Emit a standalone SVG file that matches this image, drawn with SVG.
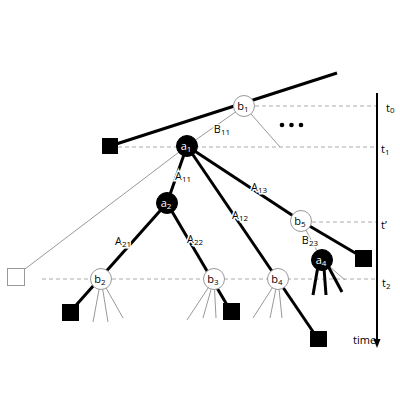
<svg xmlns="http://www.w3.org/2000/svg" width="400" height="400" viewBox="0 0 400 400">
<style>
.thick{stroke:#000;stroke-width:3;fill:none}
.thin{stroke:#999;stroke-width:1;fill:none}
.dash{stroke:#aaa;stroke-width:1;stroke-dasharray:4,3;fill:none}
.bn{fill:#fff;stroke:#999;stroke-width:1}
.an{fill:#000;stroke:#000;stroke-width:1}
.sq{fill:#000}
text{font-family:"Open Sans","DejaVu Sans",sans-serif;font-size:11px;fill:#000}
.lbl{paint-order:stroke;stroke:#fff;stroke-width:3px}
.nl{text-anchor:middle}
.w{fill:#fff}
.s{font-size:8px}
</style>
<defs>
<marker id="arr" markerWidth="6" markerHeight="6" refX="3" refY="5" orient="auto-start-reverse" markerUnits="userSpaceOnUse" viewBox="0 0 6 6">
<path d="M0,0 L6,0 L3,6 z" fill="#000"/>
</marker>
</defs>
<g id="axis">
<line x1="377" y1="93" x2="377" y2="342" stroke="#000" stroke-width="2"/>
<path d="M373.5,339 L380.5,339 L377,348 z" fill="#000"/>
<text x="386" y="112">t<tspan class="s" dy="1">0</tspan></text>
<text x="381" y="153">t<tspan class="s" dy="2">1</tspan></text>
<text x="381" y="229">t’</text>
<text x="382" y="287">t<tspan class="s" dy="2">2</tspan></text>
<text x="353" y="344">time</text>
</g>
<g id="connectors">
<line class="dash" x1="255" y1="106" x2="376" y2="106"/>
<line class="dash" x1="118" y1="147" x2="376" y2="147"/>
<line class="dash" x1="312" y1="222" x2="376" y2="222"/>
<line class="dash" x1="42" y1="279" x2="376" y2="279"/>
<line class="thick" x1="110" y1="146" x2="337" y2="73"/>
<line class="thin" x1="244" y1="106" x2="280" y2="147"/>
<line class="thin" x1="244" y1="106" x2="187" y2="146"/>
<line class="thin" x1="25" y1="269" x2="187" y2="146"/>
<line class="thick" x1="187" y1="146" x2="167" y2="203"/>
<line class="thick" x1="187" y1="146" x2="301" y2="221"/>
<line class="thick" x1="187" y1="146" x2="318" y2="339"/>
<line class="thick" x1="167" y1="203" x2="70" y2="312"/>
<line class="thick" x1="167" y1="203" x2="230" y2="310"/>
<line class="thick" x1="301" y1="221" x2="362" y2="257"/>
<line class="thin" x1="301" y1="221" x2="322" y2="260"/>
<line class="thin" x1="322" y1="260" x2="345" y2="280"/>
<line class="thick" x1="318" y1="266" x2="313" y2="295"/>
<line class="thick" x1="324" y1="268" x2="326" y2="295"/>
<line class="thick" x1="328" y1="266" x2="342" y2="292"/>
<line class="thin" x1="101" y1="279" x2="93" y2="322"/>
<line class="thin" x1="101" y1="279" x2="108" y2="322"/>
<line class="thin" x1="101" y1="279" x2="123" y2="318"/>
<line class="thin" x1="214" y1="279" x2="187" y2="320"/>
<line class="thin" x1="214" y1="279" x2="203" y2="318"/>
<line class="thin" x1="214" y1="279" x2="216" y2="318"/>
<line class="thin" x1="278" y1="279" x2="253" y2="318"/>
<line class="thin" x1="278" y1="279" x2="270" y2="318"/>
<line class="thin" x1="278" y1="279" x2="282" y2="318"/>
<circle cx="282" cy="125" r="2.3" fill="#000"/>
<circle cx="291.5" cy="125" r="2.3" fill="#000"/>
<circle cx="301" cy="125" r="2.3" fill="#000"/>
<text class="nl lbl" x="222" y="133">B<tspan class="s" dy="2">11</tspan></text>
<text class="nl lbl" x="183" y="180">A<tspan class="s" dy="2">11</tspan></text>
<text class="nl lbl" x="259" y="191">A<tspan class="s" dy="2">13</tspan></text>
<text class="nl lbl" x="240" y="219">A<tspan class="s" dy="2">12</tspan></text>
<text class="nl lbl" x="123" y="245">A<tspan class="s" dy="2">21</tspan></text>
<text class="nl lbl" x="195" y="243">A<tspan class="s" dy="2">22</tspan></text>
<text class="nl lbl" x="310" y="244">B<tspan class="s" dy="2">23</tspan></text>
</g>
<g id="sq0"><rect x="102" y="138" width="16" height="16" class="sq"/></g>
<g id="sqOpen"><rect x="7.5" y="268.5" width="17" height="17" fill="#fff" stroke="#999" stroke-width="1"/></g>
<g id="sq1"><rect x="62" y="304" width="17" height="17" class="sq"/></g>
<g id="sq2"><rect x="223" y="303" width="17" height="17" class="sq"/></g>
<g id="sq3"><rect x="310" y="331" width="17" height="16" class="sq"/></g>
<g id="sq4"><rect x="355" y="250" width="17" height="17" class="sq"/></g>
<g id="b1"><circle cx="244" cy="106" r="10.5" class="bn"/><text class="nl" x="243" y="110">b<tspan class="s" dy="2">1</tspan></text></g>
<g id="a1"><circle cx="187" cy="146" r="10.5" class="an"/><text class="nl w" x="186" y="150">a<tspan class="s w" dy="2">1</tspan></text></g>
<g id="a2"><circle cx="167" cy="203" r="10.5" class="an"/><text class="nl w" x="166" y="207">a<tspan class="s w" dy="2">2</tspan></text></g>
<g id="b5"><circle cx="301" cy="221" r="10.5" class="bn"/><text class="nl" x="300" y="225">b<tspan class="s" dy="2">5</tspan></text></g>
<g id="a4"><circle cx="322" cy="260" r="10.5" class="an"/><text class="nl w" x="321" y="264">a<tspan class="s w" dy="2">4</tspan></text></g>
<g id="b2"><circle cx="101" cy="279" r="10.5" class="bn"/><text class="nl" x="100" y="283">b<tspan class="s" dy="2">2</tspan></text></g>
<g id="b3"><circle cx="214" cy="279" r="10.5" class="bn"/><text class="nl" x="213" y="283">b<tspan class="s" dy="2">3</tspan></text></g>
<g id="b4"><circle cx="278" cy="279" r="10.5" class="bn"/><text class="nl" x="277" y="283">b<tspan class="s" dy="2">4</tspan></text></g>
</svg>
